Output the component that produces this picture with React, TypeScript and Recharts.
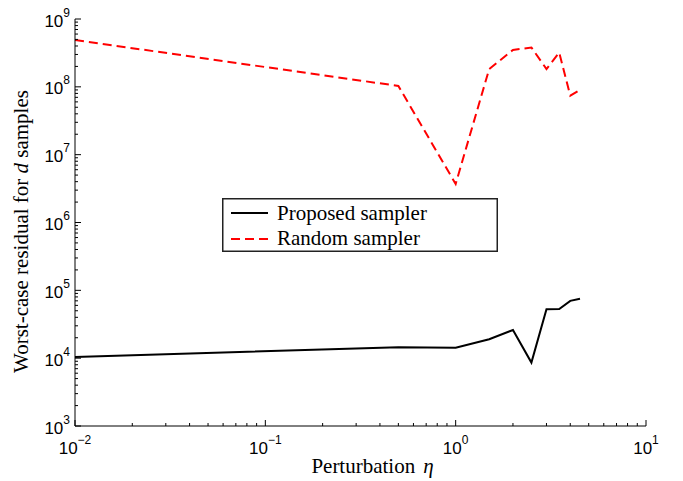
import React from 'react';
import { LineChart, Line, XAxis, YAxis, Legend, Label } from 'recharts';

// ---- data ----
const eta = [0.01, 0.5, 1, 1.5, 2, 2.5, 3, 3.5, 4, 4.5];
const proposed = [1.04e4, 1.45e4, 1.42e4, 1.9e4, 2.6e4, 8.6e3, 5.25e4, 5.3e4, 7.0e4, 7.5e4];
const randomS = [4.9e8, 1.03e8, 3.7e6, 1.83e8, 3.5e8, 3.8e8, 1.83e8, 3.2e8, 7.4e7, 9.0e7];

const seriesNames = ['Proposed sampler', 'Random sampler'];
const seriesKeys = ['proposed', 'random'];
const seriesColors = ['#000000', '#ff0000'];
const seriesDash = ['', '9 5'];

// tick decades (exponents)
const xDecades = [-2, -1, 0, 1];
const yDecades = [3, 4, 5, 6, 7, 8, 9];

const xLabel = 'Perturbation';
const xLabelSym = 'η';
const yLabelA = 'Worst-case residual for ';
const yLabelSym = 'd';
const yLabelB = ' samples';

const buildTicks = (decs: number[]) => {
  const out: number[] = [];
  for (let i = 0; i < decs.length - 1; i++) {
    for (let m = 1; m <= 9; m++) out.push(Number((m * Math.pow(10, decs[i])).toPrecision(12)));
  }
  out.push(Math.pow(10, decs[decs.length - 1]));
  return out;
};
const xTicks = buildTicks(xDecades);
const yTicks = buildTicks(yDecades);

const data = eta.map((e, i) => ({ eta: e, proposed: proposed[i], random: randomS[i] }));

const isDecade = (v: number) => Math.abs(Math.log10(v) - Math.round(Math.log10(v))) < 1e-9;
const supText = (v: number) => {
  const e = Math.round(Math.log10(v));
  return e < 0 ? '\u2212' + Math.abs(e) : String(e);
};

const TICK_FONT = '"Liberation Sans", Arial, Helvetica, sans-serif';
const SERIF = '"Liberation Serif", "Times New Roman", Times, serif';
const MAJ = 6;
const MIN = 3;

const XTickBottom = (props: any) => {
  const { x, y, payload } = props;
  const v = payload.value;
  const major = isDecade(v);
  return (
    <g>
      <line x1={x} y1={y} x2={x} y2={y - (major ? MAJ : MIN)} stroke="#000" strokeWidth={1} />
      {major && (
        <text x={x} y={y + 28} textAnchor="middle" fontFamily={TICK_FONT} fontSize={17} fill="#000">
          10<tspan dy={-10} fontSize={12}>{supText(v)}</tspan>
        </text>
      )}
    </g>
  );
};

const XTickTop = (props: any) => {
  const { x, y, payload } = props;
  const major = isDecade(payload.value);
  return <line x1={x} y1={y} x2={x} y2={y + (major ? MAJ : MIN)} stroke="#000" strokeWidth={1} />;
};

const YTickLeft = (props: any) => {
  const { x, y, payload } = props;
  const v = payload.value;
  const major = isDecade(v);
  return (
    <g>
      <line x1={x} y1={y} x2={x + (major ? MAJ : MIN)} y2={y} stroke="#000" strokeWidth={1} />
      {major && (
        <text x={x - 5} y={y + 7.5} textAnchor="end" fontFamily={TICK_FONT} fontSize={17} fill="#000">
          10<tspan dy={-10} fontSize={12}>{supText(v)}</tspan>
        </text>
      )}
    </g>
  );
};

const YTickRight = (props: any) => {
  const { x, y, payload } = props;
  const major = isDecade(payload.value);
  return <line x1={x} y1={y} x2={x - (major ? MAJ : MIN)} y2={y} stroke="#000" strokeWidth={1} />;
};

const XTitle = (props: any) => {
  const vb = props.viewBox || {};
  const cx = vb.x + vb.width / 2 + 12;
  const y = vb.y + 47;
  return (
    <text x={cx} y={y} textAnchor="middle" fontFamily={SERIF} fontSize={21} fill="#000">
      {xLabel}
      <tspan dx={8} fontStyle="italic">{xLabelSym}</tspan>
    </text>
  );
};

const YTitle = (props: any) => {
  const vb = props.viewBox || {};
  const x = 28;
  const cy = vb.y + vb.height / 2 + 9;
  return (
    <text
      x={x}
      y={cy}
      textAnchor="middle"
      transform={`rotate(-90 ${x} ${cy})`}
      fontFamily={SERIF}
      fontSize={21}
      fill="#000"
    >
      {yLabelA}
      <tspan fontStyle="italic">{yLabelSym}</tspan>
      {yLabelB}
    </text>
  );
};

const LegendBox = (props: any) => {
  const payload = props.payload || [];
  const W = 276;
  const H = 54;
  const items = seriesKeys.map((k, i) => {
    const p = payload.find((e: any) => e.dataKey === k || e.value === seriesNames[i]);
    return { name: p ? p.value : seriesNames[i], color: p ? p.color : seriesColors[i], dash: seriesDash[i] };
  });
  return (
    <svg width={W} height={H} style={{ display: 'block' }}>
      <rect x={0.75} y={0.75} width={W - 1.5} height={H - 1.5} fill="#fff" stroke="#222" strokeWidth={1.5} />
      {items.map((it, i) => {
        const ly = 15 + i * 26;
        const ty = 22 + i * 24.5;
        return (
          <g key={i}>
            <line x1={9} y1={ly} x2={46} y2={ly} stroke={it.color} strokeWidth={2} strokeDasharray={it.dash || undefined} />
            <text x={55} y={ty} fontFamily={SERIF} fontSize={21} fill="#000">{it.name}</text>
          </g>
        );
      })}
    </svg>
  );
};

export default function App() {
  return (
    <div style={{ position: 'absolute', left: 0, top: 0, width: 683, height: 481, background: '#fff' }}>
      <LineChart width={683} height={481} data={data} margin={{ top: 19, right: 37, bottom: 0, left: 0 }}>
        <XAxis
          dataKey="eta"
          type="number"
          scale="log"
          domain={[0.01, 10]}
          allowDataOverflow
          ticks={xTicks}
          interval={0}
          tickLine={false}
          tickSize={0}
          tickMargin={0}
          tick={<XTickBottom />}
          height={55}
          axisLine={{ stroke: '#000', strokeWidth: 1 }}
        >
          <Label content={<XTitle />} />
        </XAxis>
        <XAxis
          xAxisId="top"
          orientation="top"
          dataKey="eta"
          type="number"
          scale="log"
          domain={[0.01, 10]}
          allowDataOverflow
          ticks={xTicks}
          interval={0}
          tickLine={false}
          tickSize={0}
          tickMargin={0}
          tick={<XTickTop />}
          height={0}
          axisLine={{ stroke: '#000', strokeWidth: 1 }}
        />
        <YAxis
          type="number"
          scale="log"
          domain={[1e3, 1e9]}
          allowDataOverflow
          ticks={yTicks}
          interval={0}
          tickLine={false}
          tickSize={0}
          tickMargin={0}
          tick={<YTickLeft />}
          width={75}
          axisLine={{ stroke: '#000', strokeWidth: 1 }}
        >
          <Label content={<YTitle />} />
        </YAxis>
        <YAxis
          yAxisId="right"
          orientation="right"
          type="number"
          scale="log"
          domain={[1e3, 1e9]}
          allowDataOverflow
          ticks={yTicks}
          interval={0}
          tickLine={false}
          tickSize={0}
          tickMargin={0}
          tick={<YTickRight />}
          width={0}
          axisLine={{ stroke: '#000', strokeWidth: 1 }}
        />
        <Legend
          layout="vertical"
          verticalAlign="middle"
          align="center"
          content={<LegendBox />}
          wrapperStyle={{ left: 222, top: 198, width: 276, height: 54 }}
        />
        <Line
          dataKey="proposed"
          name={seriesNames[0]}
          stroke={seriesColors[0]}
          strokeWidth={2}
          dot={false}
          activeDot={false}
          isAnimationActive={false}
        />
        <Line
          dataKey="random"
          name={seriesNames[1]}
          stroke={seriesColors[1]}
          strokeWidth={2}
          strokeDasharray={seriesDash[1]}
          dot={false}
          activeDot={false}
          isAnimationActive={false}
        />
      </LineChart>
    </div>
  );
}
